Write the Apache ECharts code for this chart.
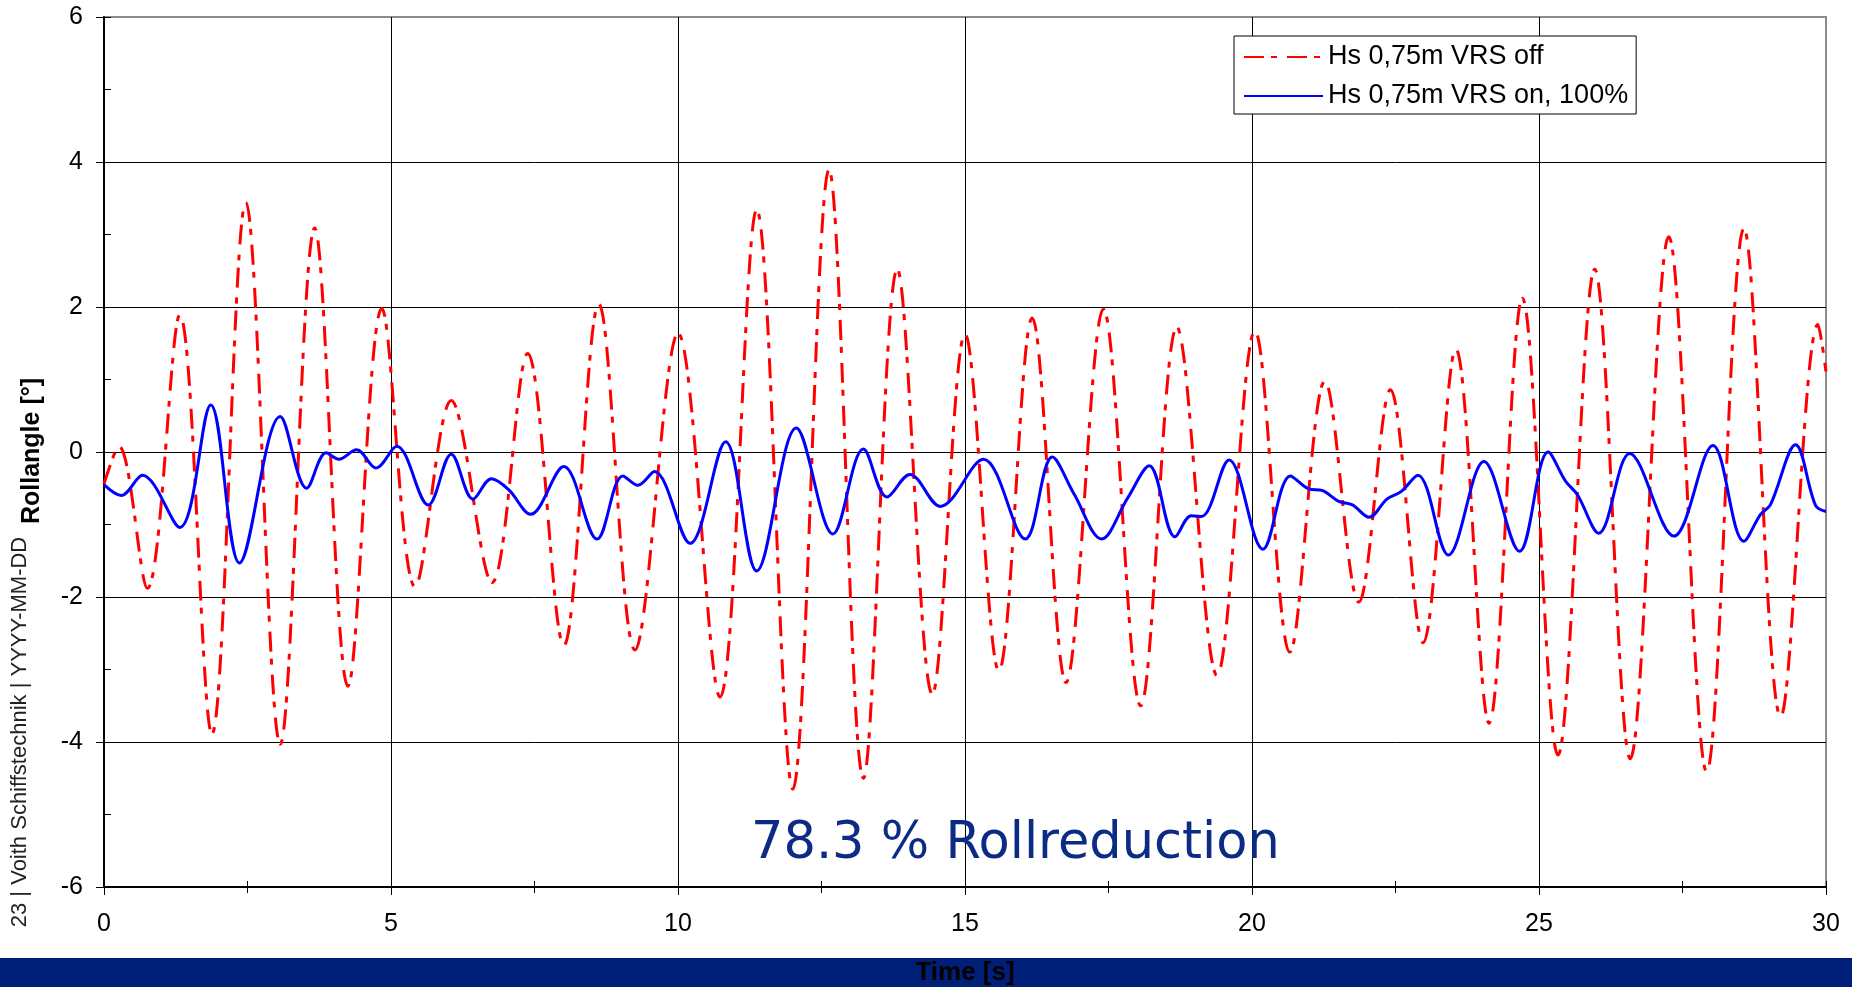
<!DOCTYPE html>
<html>
<head>
<meta charset="utf-8">
<script src="https://cdn.jsdelivr.net/npm/echarts@6/dist/echarts.min.js"></script>
<style>
html,body{margin:0;padding:0;background:#fff;}
#chart{width:1852px;height:987px;}
</style>
</head>
<body>
<div id="chart"></div>
<script>
// ---- data (time [s], roll angle [deg]) ----
const offName = 'Hs 0,75m VRS off';
const onName = 'Hs 0,75m VRS on, 100%';

const offTime = [0, 0.26, 0.755, 1.32, 1.88, 2.47, 3.07, 3.67, 4.25, 4.84, 5.42, 6.05, 6.76, 7.38, 8.01, 8.62, 9.25, 10.0, 10.73, 11.37, 12.0, 12.63, 13.23, 13.82, 14.43, 15.0, 15.59, 16.17, 16.76, 17.41, 18.06, 18.69, 19.39, 20.05, 20.66, 21.27, 21.86, 22.41, 22.98, 23.55, 24.13, 24.71, 25.33, 25.97, 26.59, 27.26, 27.92, 28.57, 29.21, 29.86, 30];
const offValue = [-0.44, 0.08, -1.88, 1.89, -3.89, 3.44, -4.03, 3.09, -3.23, 1.98, -1.86, 0.71, -1.80, 1.36, -2.67, 2.04, -2.73, 1.64, -3.38, 3.34, -4.65, 3.89, -4.50, 2.52, -3.34, 1.63, -3.02, 1.85, -3.18, 1.97, -3.50, 1.72, -3.08, 1.67, -2.76, 0.98, -2.07, 0.86, -2.63, 1.42, -3.74, 2.12, -4.18, 2.52, -4.23, 2.97, -4.41, 3.08, -3.65, 1.76, 1.11];

const onTime = [0, 0.30, 0.67, 1.32, 1.86, 2.36, 3.07, 3.53, 3.87, 4.09, 4.40, 4.74, 5.10, 5.65, 6.05, 6.43, 6.75, 7.05, 7.43, 8.01, 8.59, 9.04, 9.30, 9.59, 10.21, 10.83, 11.37, 12.06, 12.70, 13.23, 13.64, 14.04, 14.57, 15.32, 16.05, 16.52, 16.90, 17.38, 17.83, 18.21, 18.66, 18.94, 19.12, 19.60, 20.19, 20.67, 20.99, 21.22, 21.51, 21.75, 22.04, 22.35, 22.59, 22.89, 23.42, 24.04, 24.66, 25.16, 25.46, 25.67, 26.04, 26.58, 27.35, 28.03, 28.57, 28.86, 29.03, 29.47, 29.82, 30];
const onValue = [-0.45, -0.60, -0.32, -1.04, 0.65, -1.53, 0.49, -0.50, -0.01, -0.10, 0.03, -0.22, 0.08, -0.73, -0.03, -0.65, -0.37, -0.52, -0.86, -0.20, -1.20, -0.33, -0.46, -0.27, -1.26, 0.14, -1.64, 0.33, -1.13, 0.04, -0.62, -0.31, -0.75, -0.10, -1.20, -0.07, -0.58, -1.20, -0.64, -0.19, -1.17, -0.88, -0.89, -0.11, -1.34, -0.33, -0.51, -0.53, -0.68, -0.73, -0.90, -0.65, -0.55, -0.32, -1.42, -0.13, -1.37, 0.00, -0.40, -0.59, -1.12, -0.02, -1.16, 0.09, -1.23, -0.86, -0.73, 0.10, -0.74, -0.82];

const xTicks = {min: 0, max: 30, interval: 5, minor: 2.5};
const yTicks = {min: -6, max: 6, interval: 2, minor: 1};

const yTitle = 'Rollangle [°]';
const xTitle = 'Time [s]';
const reductionText = '78.3 % Rollreduction';
const footerText = '23 | Voith Schiffstechnik | YYYY-MM-DD';

// ---- chart ----
const FONT = '"Liberation Sans", Arial, sans-serif';
const pairs = (t, v) => t.map((x, i) => [x, v[i]]);

const chart = echarts.init(document.getElementById('chart'), null, {renderer: 'canvas'});

const option = {
  animation: false,
  backgroundColor: '#ffffff',
  grid: {
    left: 104, right: 26, top: 17, bottom: 100,
    show: true, borderColor: '#8c8c8c', borderWidth: 2, backgroundColor: 'transparent'
  },
  legend: {
    left: 1234, top: 36, orient: 'vertical',
    itemWidth: 79, itemHeight: 14, itemGap: 9,
    padding: [6, 8, 3, 9],
    borderColor: '#000', borderWidth: 1, borderRadius: 0,
    backgroundColor: '#fff',
    itemStyle: {color: 'rgba(0,0,0,0)', borderColor: 'rgba(0,0,0,0)', borderWidth: 0, opacity: 0},
    textStyle: {fontSize: 27, fontFamily: FONT, color: '#000', lineHeight: 30},
    data: [offName, onName]
  },
  xAxis: [
    {
      type: 'value', min: xTicks.min, max: xTicks.max, interval: xTicks.interval,
      position: 'bottom',
      axisLine: {show: true, onZero: false, lineStyle: {color: '#000', width: 2}},
      axisTick: {show: true, length: 8, lineStyle: {color: '#000', width: 1}},
      minorTick: {show: true, splitNumber: 2, length: 6, lineStyle: {color: '#000', width: 1}},
      splitLine: {show: true, showMinLine: false, showMaxLine: false, lineStyle: {color: '#000', width: 1}},
      axisLabel: {fontSize: 25, fontFamily: FONT, color: '#000', margin: 25}
    },
    {
      type: 'value', min: xTicks.min, max: xTicks.max, interval: xTicks.minor,
      position: 'bottom',
      axisLine: {show: false, onZero: false},
      axisTick: {show: true, inside: true, length: 6, lineStyle: {color: '#000', width: 1}},
      splitLine: {show: false},
      axisLabel: {show: false}
    }
  ],
  yAxis: [
    {
      type: 'value', min: yTicks.min, max: yTicks.max, interval: yTicks.interval,
      position: 'left',
      axisLine: {show: true, onZero: false, lineStyle: {color: '#000', width: 2}},
      axisTick: {show: true, length: 8, lineStyle: {color: '#000', width: 1}},
      splitLine: {show: true, showMinLine: false, showMaxLine: false, lineStyle: {color: '#000', width: 1}},
      axisLabel: {fontSize: 25, fontFamily: FONT, color: '#000', margin: 21}
    },
    {
      type: 'value', min: yTicks.min, max: yTicks.max, interval: yTicks.minor,
      position: 'left',
      axisLine: {show: false, onZero: false},
      axisTick: {show: true, inside: true, length: 7, lineStyle: {color: '#000', width: 1}},
      splitLine: {show: false},
      axisLabel: {show: false}
    }
  ],
  series: [
    {
      name: offName, type: 'line', xAxisIndex: 0, yAxisIndex: 0,
      data: pairs(offTime, offValue),
      symbol: 'none', smooth: 0.35, clip: true,
      lineStyle: {color: '#ff0000', width: 3, type: [20, 7, 6, 10]},
      itemStyle: {color: '#ff0000'},
      z: 3
    },
    {
      name: onName, type: 'line', xAxisIndex: 0, yAxisIndex: 0,
      data: pairs(onTime, onValue),
      symbol: 'none', smooth: 0.35, clip: true,
      lineStyle: {color: '#0000ff', width: 3, type: 'solid'},
      itemStyle: {color: '#0000ff'},
      z: 4
    }
  ],
  graphic: [
    {type: 'rect', left: 0, top: 958, shape: {width: 1852, height: 29}, style: {fill: '#001f78'}, z: 10},
    {type: 'text', x: 965, y: 973, z: 11,
      style: {text: xTitle, fill: '#000', font: 'bold 26px ' + FONT, align: 'center', verticalAlign: 'middle'}},
    {type: 'text', x: 751, y: 845, z: 11,
      style: {text: reductionText, fill: '#0b2b84', font: '51px "DejaVu Sans", sans-serif', align: 'left', verticalAlign: 'middle'}},
    {type: 'text', x: 32, y: 451, rotation: Math.PI / 2, z: 11,
      style: {text: yTitle, fill: '#000', font: 'bold 25px ' + FONT, align: 'center', verticalAlign: 'middle'}},
    {type: 'text', x: 20, y: 732, rotation: Math.PI / 2, z: 11,
      style: {text: footerText, fill: '#222', font: '22px ' + FONT, align: 'center', verticalAlign: 'middle'}}
  ]
};

chart.setOption(option);
</script>
</body>
</html>
